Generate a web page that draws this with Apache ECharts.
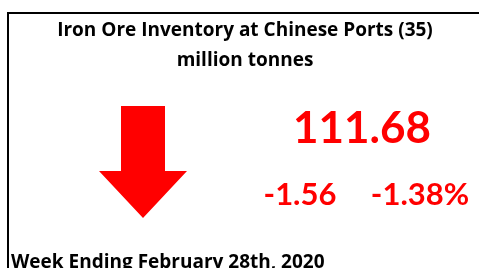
<!DOCTYPE html>
<html>
<head>
<meta charset="utf-8">
<script src="https://cdn.jsdelivr.net/npm/echarts@6/dist/echarts.min.js"></script>
<style>
html,body{margin:0;padding:0;background:#fff;}
#c{width:479px;height:268px;}
</style>
</head>
<body>
<div id="c"></div>
<script>
const titleLines = ["Iron Ore Inventory at Chinese Ports (35)", "million tonnes"];
const latestValue = [111.68];
const weeklyChange = [-1.56];
const weeklyPctChange = [-1.38];
const footerLabel = ["Week Ending February 28th, 2020"];

const chart = echarts.init(document.getElementById('c'), null, {renderer: 'canvas'});
const FONT = 'Lato, "Open Sans", sans-serif';
const FONT2 = '"Open Sans", Lato, sans-serif';
const red = '#ff0000';
const fmt = v => (v < 0 ? '-' : '') + Math.abs(v).toFixed(2);

chart.setOption({
  backgroundColor: '#ffffff',
  animation: false,
  graphic: [
    {type: 'polyline', shape: {points: [[8, 268], [8, 13], [479, 13]]},
     style: {stroke: '#000', lineWidth: 2, fill: null}},
    {type: 'text', x: 245, y: 31, style: {text: titleLines[0], fontFamily: FONT2, fontWeight: 'bold', fontSize: 19, fill: '#000', align: 'center', verticalAlign: 'middle'}},
    {type: 'text', x: 245, y: 61, style: {text: titleLines[1], fontFamily: FONT2, fontWeight: 'bold', fontSize: 19, fill: '#000', align: 'center', verticalAlign: 'middle'}},
    {type: 'polygon', shape: {points: [[121,106],[165,106],[165,171],[187,171],[143,218],[99,171],[121,171]]},
     style: {fill: red}},
    {type: 'text', x: 362, y: 129, style: {text: latestValue[0].toFixed(2), fontFamily: FONT, fontWeight: 'bold', fontSize: 44, fill: red, align: 'center', verticalAlign: 'middle'}},
    {type: 'text', x: 300, y: 195, style: {text: fmt(weeklyChange[0]), fontFamily: FONT, fontWeight: 'bold', fontSize: 31, fill: red, align: 'center', verticalAlign: 'middle'}},
    {type: 'text', x: 420, y: 195, style: {text: fmt(weeklyPctChange[0]) + '%', fontFamily: FONT, fontWeight: 'bold', fontSize: 31, fill: red, align: 'center', verticalAlign: 'middle'}},
    {type: 'text', x: 11, y: 263, style: {text: footerLabel[0], fontFamily: FONT2, fontWeight: 'bold', fontSize: 19, fill: '#000', align: 'left', verticalAlign: 'middle'}}
  ]
});
</script>
</body>
</html>
